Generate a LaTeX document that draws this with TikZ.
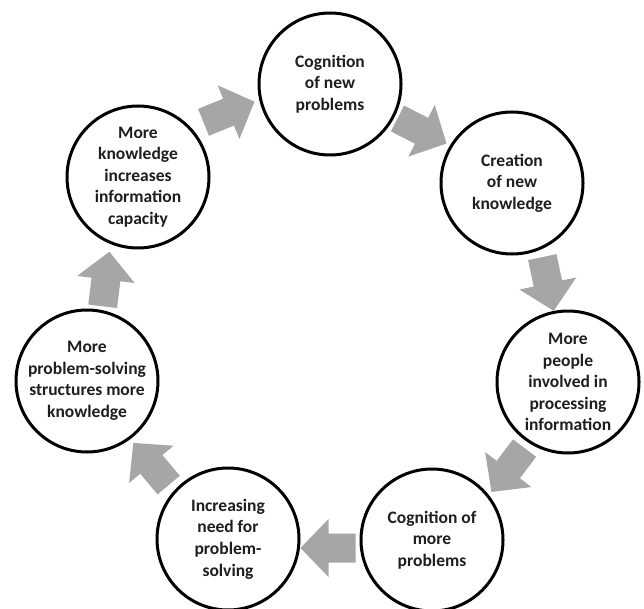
\documentclass[tikz,border=0pt]{standalone}
\usepackage{fontspec}
\setmainfont{Carlito}
\definecolor{arrowgray}{RGB}{166,166,166}
\definecolor{txt}{RGB}{30,30,30}
\begin{document}
\begin{tikzpicture}[x=1pt,y=-1pt,
  cyc/.style={circle, draw=black, line width=3pt, minimum size=142pt, inner sep=0pt,
    align=center, text=txt, font=\bfseries\fontsize{17.5}{21.6}\selectfont},
  blk/.style={fill=arrowgray, draw=none}]
\useasboundingbox (0,0) rectangle (644,609);
\fill[white] (0,0) rectangle (644,609);
% circles
\node[cyc] (n1) at (330,84)  {Cognition\\of new\\problems};
\node[cyc] (n2) at (512,183) {Creation\\of new\\knowledge};
\node[cyc] (n3) at (568,382) {More\\people\\involved in\\processing\\information};
\node[cyc] (n4) at (432,540) {Cognition of\\more\\problems};
\node[cyc] (n5) at (228,539) {Increasing\\need for\\problem-\\solving};
\node[cyc] (n6) at (87,381)  {More\\problem-solving\\structures more\\knowledge};
\node[cyc] (n7) at (138,177) {More\\knowledge\\increases\\information\\capacity};
% arrow positions
\coordinate (a12) at (422,131);
\coordinate (a23) at (548,284);
\coordinate (a34) at (508,470);
\coordinate (a45) at (328,548);
\coordinate (a56) at (151,464);
\coordinate (a67) at (106,279);
\coordinate (a71) at (229,112);
\foreach \c/\ang in {a12/-27, a23/-78, a34/-127, a45/180, a56/130, a67/83, a71/22}{
  \begin{scope}[shift={(\c)}, rotate=\ang]
    \fill[blk] (27.5,0) -- (-0.5,29) -- (-0.5,14.5) -- (-27.5,14.5)
      -- (-27.5,-14.5) -- (-0.5,-14.5) -- (-0.5,-29) -- cycle;
  \end{scope}
}
\end{tikzpicture}
\end{document}
